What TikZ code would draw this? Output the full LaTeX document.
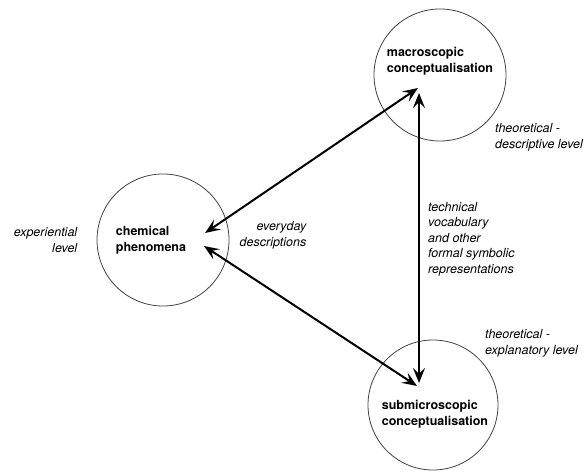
\documentclass[tikz,border=0pt]{standalone}
\usepackage{fontspec}
\setmainfont{TeX Gyre Heros}
\usetikzlibrary{arrows.meta,calc}

\begin{document}
\begin{tikzpicture}[x=1pt,y=1pt,
    stage/.style={draw=black!75, line width=.8pt, circle, minimum size=132pt, inner sep=0pt},
    stagetxt/.style={align=left, font=\fontsize{12.5}{16}\selectfont\bfseries},
    sidetxt/.style={font=\fontsize{12.5}{16}\selectfont\itshape},
    twoway/.style={line width=2pt, {Stealth[length=15pt,width=12pt,inset=6pt]}-{Stealth[length=15pt,width=12pt,inset=6pt]}}]

    \useasboundingbox (0,0) rectangle (585,-473);

    \node[stage] (chem) at (163,-240) {};
    \node[stage] (macro) at (440,-75) {};
    \node[stage, minimum size=130pt] (sub) at (433,-405) {};

    \node[stagetxt] (chemtxt) at (151,-240) {chemical\\phenomena};
    \node[stagetxt] (macrotxt) at (440,-61) {macroscopic\\conceptualisation};
    \node[stagetxt] (subtxt) at (435,-414) {submicroscopic\\conceptualisation};

    \node[sidetxt, align=right] (exp) at (45.5,-240) {experiential\\level};
    \node[sidetxt, align=right] (everyday) at (273,-235.5) {everyday\\descriptions};
    \node[sidetxt, align=left, anchor=west, inner sep=0pt] (desc) at (495,-137) {theoretical -\\descriptive level};
    \node[sidetxt, align=left, anchor=west, inner sep=0pt, font=\fontsize{12.5}{15.5}\selectfont\itshape] (vocab) at (428,-239) {technical\\vocabulary\\and other\\formal symbolic\\representations};
    \node[sidetxt, align=left, anchor=west, inner sep=0pt] (expl) at (485,-343.5) {theoretical -\\explanatory level};

    \draw[twoway] ($(chem)+(42,7)$) -- ($(macro)+(-22,-13)$);
    \draw[twoway] ($(chem)+(41,-6)$) -- ($(sub)+(-16,19)$);
    \draw[twoway] ($(macro)+(-21,-18)$) -- ($(sub)+(-14,22)$);
\end{tikzpicture}
\end{document}
